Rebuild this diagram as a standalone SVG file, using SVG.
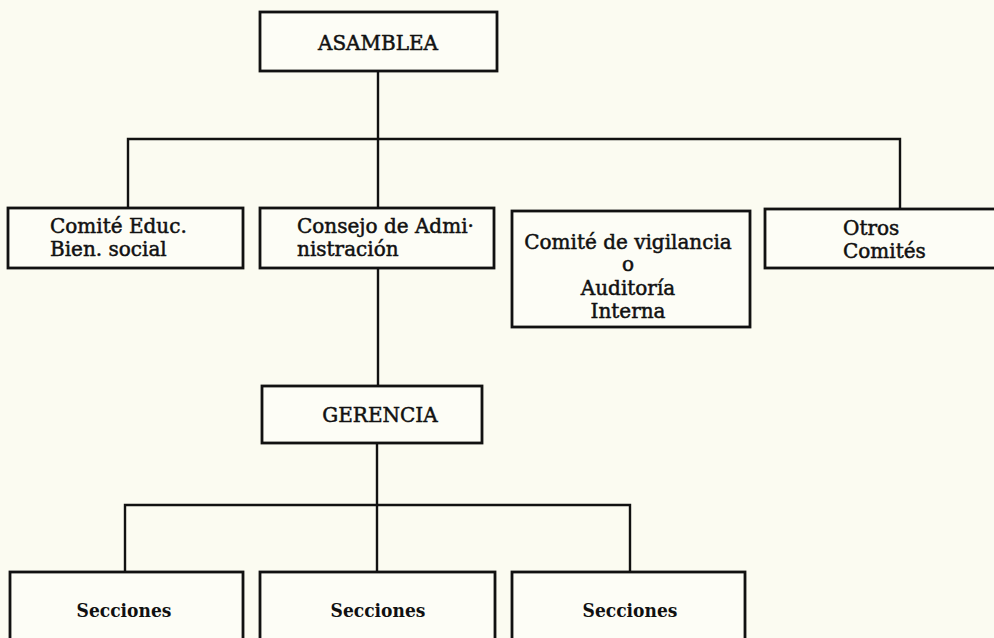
<svg xmlns="http://www.w3.org/2000/svg" width="994" height="638" viewBox="0 0 994 638">
<style>
.box{fill:#fdfdf6;stroke:#111;stroke-width:2.8}
.con{fill:none;stroke:#111;stroke-width:2.4}
.t{font-family:"DejaVu Serif","Liberation Serif",serif;font-size:20px;fill:#111;stroke:#111;stroke-width:0.5}
.c{text-anchor:middle}
.s{font-family:"DejaVu Serif","Liberation Serif",serif;font-weight:bold;font-stretch:condensed;font-size:19px;fill:#111;text-anchor:middle}
</style>
<rect width="994" height="638" fill="#fbfbf1"/>
<g id="connectors">
<line class="con" x1="378" y1="71" x2="378" y2="208"/>
<polyline class="con" points="128,208 128,139 900,139 900,209"/>
<line class="con" x1="378" y1="268" x2="378" y2="386"/>
<line class="con" x1="377" y1="443" x2="377" y2="572"/>
<polyline class="con" points="125,572 125,505 630,505 630,572"/>
</g>
<g id="asamblea">
<rect class="box" x="260" y="12" width="237" height="59"/>
<text class="t c" x="378" y="50" font-size="21">ASAMBLEA</text>
</g>
<g id="comite-educ">
<rect class="box" x="8" y="208" width="235" height="60"/>
<text class="t" x="50" y="233">Comité Educ.</text>
<text class="t" x="50" y="256">Bien. social</text>
</g>
<g id="consejo">
<rect class="box" x="260" y="208" width="234" height="60"/>
<text class="t" x="297" y="233">Consejo de Admi·</text>
<text class="t" x="297" y="256">nistración</text>
</g>
<g id="vigilancia">
<rect class="box" x="512" y="211" width="238" height="116"/>
<text class="t c" x="628" y="249">Comité de vigilancia</text>
<text class="t c" x="628" y="271">o</text>
<text class="t c" x="628" y="295">Auditoría</text>
<text class="t c" x="628" y="318">Interna</text>
</g>
<g id="otros">
<rect class="box" x="765" y="209" width="240" height="59"/>
<text class="t" x="843" y="235">Otros</text>
<text class="t" x="843" y="258">Comités</text>
</g>
<g id="gerencia">
<rect class="box" x="262" y="386" width="220" height="57"/>
<text class="t c" x="380" y="422" font-size="21">GERENCIA</text>
</g>
<g id="secciones-1">
<rect class="box" x="10" y="572" width="233" height="80"/>
<text class="s" x="124" y="617">Secciones</text>
</g>
<g id="secciones-2">
<rect class="box" x="260" y="572" width="235" height="80"/>
<text class="s" x="378" y="617">Secciones</text>
</g>
<g id="secciones-3">
<rect class="box" x="512" y="572" width="233" height="80"/>
<text class="s" x="630" y="617">Secciones</text>
</g>
</svg>
